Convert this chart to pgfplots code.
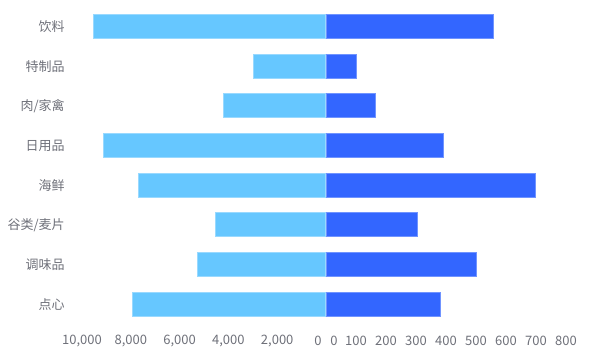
\documentclass[border=0pt]{standalone}
\usepackage{pgfplots}
\pgfplotsset{compat=1.18}
\usepackage{fontspec}
\setmainfont{Noto Sans CJK SC}
\definecolor{lb}{HTML}{66C7FF}
\definecolor{lbe}{HTML}{99D9FF}
\definecolor{db}{HTML}{3366FF}
\definecolor{dbe}{HTML}{7094FF}
\definecolor{txt}{HTML}{6E7079}
\pgfplotsset{
  base/.style={
    scale only axis,
    height=238.1pt,
    ymin=-0.5, ymax=7.5,
    y dir=reverse,
    axis line style={draw=none},
    tick style={draw=none},
    xbar, bar width=18pt, bar shift=0pt,
    font=\fontsize{9.75pt}{11pt}\selectfont,
    ticklabel style={text=txt},
    /pgf/number format/assume math mode=true,
    /pgf/number format/1000 sep={,},
    xticklabel style={anchor=center, yshift=-12.75pt},
    scaled x ticks=false,
  }
}
\begin{document}
\begin{tikzpicture}[x=0.75pt,y=0.75pt]
\path (0,0) rectangle (595,362);
\begin{axis}[base,
  at={(61.5pt,28.5pt)}, anchor=south west,
  width=183pt,
  x dir=reverse, xmin=0, xmax=10000,
  xtick={2000,4000,6000,8000,10000},
  extra x ticks={0},
  extra x tick style={xticklabel style={xshift=-6pt}},
  ytick={0,1,2,3,4,5,6,7},
  yticklabels={饮料,特制品,肉/家禽,日用品,海鲜,谷类/麦片,调味品,点心},
  yticklabel style={anchor=east, inner sep=0pt, xshift=-8.5pt},
]
\addplot[fill=lb, draw=lbe, line width=0.75pt] coordinates {
  (9525,0) (2980,1) (4200,2) (9115,3) (7665,4) (4535,5) (5260,6) (7910,7)};
\end{axis}
\begin{axis}[base,
  at={(244.5pt,28.5pt)}, anchor=south west,
  width=180pt,
  xmin=0, xmax=800,
  xtick={100,200,300,400,500,600,700,800},
  extra x ticks={0},
  extra x tick style={xticklabel style={xshift=6pt}},
  ytick=\empty,
]
\addplot[fill=db, draw=dbe, line width=0.75pt] coordinates {
  (557,0) (100,1) (164,2) (391,3) (698,4) (305,5) (503,6) (383,7)};
\end{axis}
\end{tikzpicture}
\end{document}
